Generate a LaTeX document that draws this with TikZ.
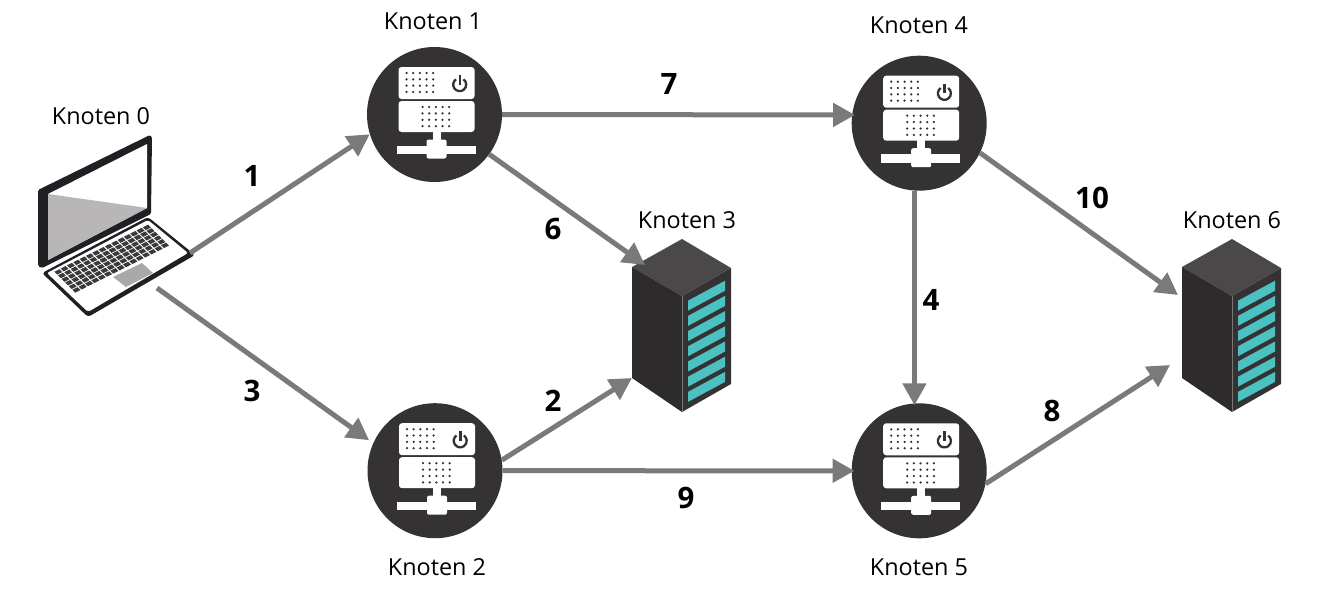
\documentclass[tikz,border=0pt]{standalone}
\usepackage{fontspec}
\setmainfont{Open Sans}
\usetikzlibrary{arrows.meta}
\definecolor{hostc}{HTML}{343233}
\definecolor{linkc}{HTML}{7A7A7A}
\definecolor{topc}{HTML}{4A4849}
\definecolor{leftc}{HTML}{2E2B2C}
\definecolor{rightc}{HTML}{353233}
\definecolor{stripec}{HTML}{4CC1C1}
\definecolor{edgec}{HTML}{77777A}
\definecolor{lapc}{HTML}{1F2024}
\definecolor{screenc}{HTML}{B8B6B6}
\definecolor{padc}{HTML}{A9A9A9}
\definecolor{keyc}{HTML}{3A3A3C}
\tikzset{
  host/.style={circle,fill=hostc,minimum size=135pt,inner sep=0pt},
  lbl/.style={font=\fontsize{23.4}{27}\selectfont,text=black,inner sep=0pt},
  num/.style={font=\fontsize{29.5}{33}\selectfont\bfseries,text=black,inner sep=0pt},
  link/.style={draw=linkc,line width=5pt,-{Triangle[length=22pt,width=23pt]},shorten >=0pt},
  intocircle/.style={shorten >=-3pt}
}
% host icon: #1 name, #2 x, #3 y
\newcommand{\hosticon}[3]{%
  \node[host] (#1) at (#2,#3) {};
  \begin{scope}[shift={(#2,#3)}]
    \fill[white,rounded corners=3pt] (-36,-47.5) rectangle (40,-15.5);
    \fill[white,rounded corners=3pt] (-36,-13.5) rectangle (40,17.5);
    \fill[white] (-2,16) rectangle (6,27);
    \fill[white] (-38,31) rectangle (41,39.5);
    \fill[white,rounded corners=2pt] (-8,25) rectangle (12,44);
    \foreach \i in {0,...,4}{\foreach \j in {0,...,3}{
      \fill[hostc] ({-28+6.67*\i},{-41.5+6.33*\j}) circle (1.25pt);
      \fill[hostc] ({-12+6.67*\i},{-7.5+6.4*\j}) circle (1.25pt);
    }}
    \draw[hostc,line width=2.3pt] (21.5,-35.2) arc[start angle=125,end angle=415,radius=6.5pt];
    \draw[hostc,line width=2.5pt] (25.5,-39.5) -- (25.5,-30);
  \end{scope}}
% rack: #1 x offset
\newcommand{\rack}[1]{%
  \begin{scope}[shift={(#1,0)}]
    \fill[topc] (682,239) -- (731,268) -- (682,296) -- (632,267) -- cycle;
    \fill[leftc] (632,267) -- (682,296) -- (682,412) -- (632,378) -- cycle;
    \fill[rightc] (682,296) -- (731,268) -- (731,384) -- (682,412) -- cycle;
    \draw[edgec,line width=.7pt] (682,296) -- (682,412);
    \foreach \k in {0,...,6}{
      \fill[stripec] (688,{300.7+15.2*\k}) -- (725,{280.7+15.2*\k}) -- (725,{290.7+15.2*\k}) -- (688,{310.7+15.2*\k}) -- cycle;
    }
  \end{scope}}
\begin{document}
\begin{tikzpicture}[x=1pt,y=-1pt]
\useasboundingbox (0,0) rectangle (1325,603);
\fill[white] (0,0) rectangle (1325,603);
% laptop
\fill[lapc,rounded corners=1.5pt] (38,190) -- (150,135) -- (152,137) -- (151,214) -- (42,268) -- (38,266) -- cycle;
\fill[white] (48,194) -- (147,144) -- (147,208) -- (48,260) -- cycle;
\fill[screenc] (48,194) -- (147,208) -- (48,260) -- cycle;
\fill[lapc,rounded corners=3pt] (42,273) -- (148,217) -- (195,255) -- (88,317) -- cycle;
\fill[white,rounded corners=2pt] (47,273) -- (148,220) -- (188,253) -- (88,312) -- cycle;
\begin{scope}[shift={(53.3,271.7)},x={(6.33pt,3.18pt)},y={(3.62pt,-3.6pt)}]
  \foreach \i in {0,...,14}{\foreach \j in {0,...,5}{
    \fill[keyc] ({\i+.1},{\j+.1}) -- ({\i+.9},{\j+.1}) -- ({\i+.9},{\j+.9}) -- ({\i+.1},{\j+.9}) -- cycle;
  }}
\end{scope}
\fill[padc] (113,277) -- (142,263) -- (153,273) -- (126,287) -- cycle;
\coordinate (lapA) at (190,253);
\coordinate (lapB) at (157,288);
% racks
\rack{0}
\rack{550}
\coordinate (rackA6) at (645,265);
\coordinate (rackA2) at (632,378);
\coordinate (rackB10) at (1178,295);
\coordinate (rackB8) at (1170,365);
% hosts
\hosticon{n1}{434.5}{114.5}
\hosticon{n2}{435}{470.7}
\hosticon{n4}{919.2}{123.2}
\hosticon{n5}{919.2}{470.8}
% connectors
\draw[link] (lapA) -- (n1.197);
\draw[link,shorten >=5pt] (lapB) -- (n2.156);
\draw[link] (n1.-36) -- (rackA6);
\draw[link] (n2.9) -- (rackA2);
\draw[link,intocircle] (n1.0) -- (n4.173);
\draw[link,intocircle] (n2.0) -- (n5.180);
\draw[link,shorten >=-2pt] (n4.266) -- (n5.94);
\draw[link] (n4.-26) -- (rackB10);
\draw[link] (n5.-11) -- (rackB8);
% labels
\node[lbl] (k0) at (101,116) {Knoten 0};
\node[lbl] (k1) at (433,21) {Knoten 1};
\node[lbl] (k2) at (437,567) {Knoten 2};
\node[lbl] (k3) at (687,220) {Knoten 3};
\node[lbl] (k4) at (919,25) {Knoten 4};
\node[lbl] (k5) at (919,567) {Knoten 5};
\node[lbl] (k6) at (1232,220) {Knoten 6};
\node[num] (e1) at (252,176) {1};
\node[num] (e3) at (252,391) {3};
\node[num] (e6) at (553,229) {6};
\node[num] (e2) at (553,401) {2};
\node[num] (e7) at (669,84) {7};
\node[num] (e9) at (686,498) {9};
\node[num] (e4) at (931,300) {4};
\node[num] (e8) at (1052,411) {8};
\node[num] (e10) at (1092,198) {10};
\end{tikzpicture}
\end{document}
